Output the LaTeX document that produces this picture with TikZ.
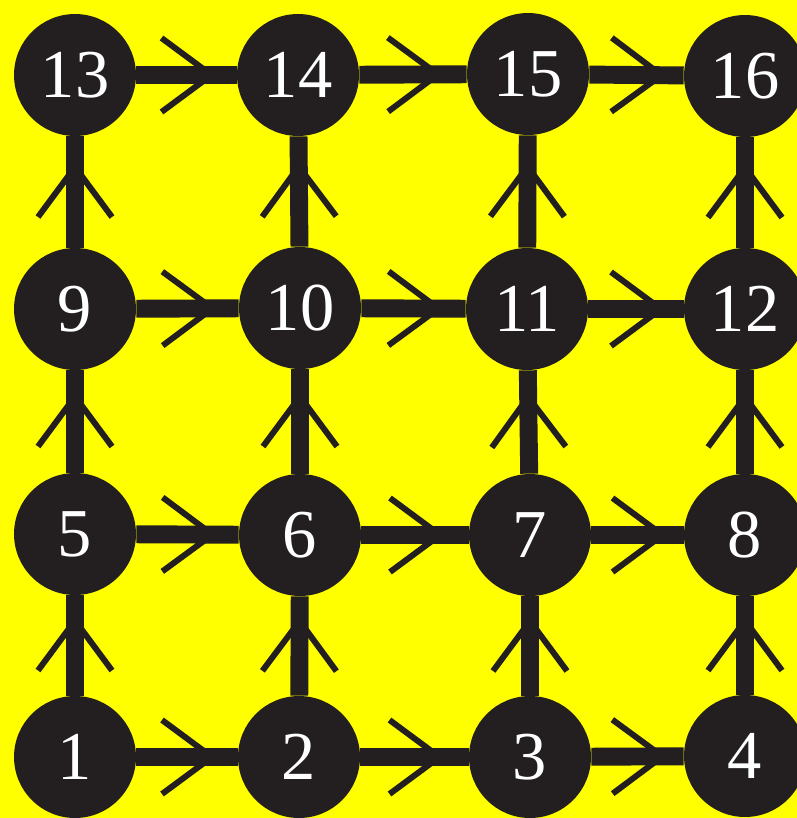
\documentclass[tikz,border=0pt]{standalone}
\usepackage{xcolor}
\usepackage{fontspec}
\setmainfont{Liberation Serif}
\usepackage{tikz}
\usetikzlibrary{decorations.markings}
\definecolor{canvas}{RGB}{255,255,0}
\definecolor{vertex}{RGB}{35,31,32}

\tikzset{
  state/.style={circle, fill=vertex, text=white, minimum size=2.44cm, inner sep=0pt,
    font=\fontsize{39}{39}\selectfont},
  flow/.style={draw=vertex, line width=10.2pt,
    postaction={decorate, decoration={markings, mark=at position 0.5 with {
      \draw[vertex, line width=3.4pt] (-0.5cm,0.74cm) -- (0.5cm,0) -- (-0.5cm,-0.74cm);}}}}
}

\begin{document}
\begin{tikzpicture}[x=0.02cm, y=-0.02cm]
    \fill[canvas] (0,0) rectangle (797,818);
    \useasboundingbox (0,0) rectangle (797,818);

    % the sixteen sites
    \foreach \n/\x/\y in {1/75/757, 2/299/757, 3/530/757, 4/745/756,
                          5/75/534, 6/300/535, 7/530/535, 8/745/535,
                          9/75/309, 10/300/308, 11/527/309, 12/745/309,
                          13/75/75, 14/298/75, 15/528/74, 16/745/76}
        \node[state] (n\n) at (\x,\y) {\n};

    % rightward links
    \foreach \r in {0,...,3}{
        \foreach \c in {1,2,3}{
            \pgfmathtruncatemacro\a{4*\r+\c}
            \pgfmathtruncatemacro\b{\a+1}
            \draw[flow] (n\a) -- (n\b);
        }
    }
    % upward links
    \foreach \a in {1,...,12}{
        \pgfmathtruncatemacro\b{\a+4}
        \draw[flow] (n\a) -- (n\b);
    }
\end{tikzpicture}
\end{document}
